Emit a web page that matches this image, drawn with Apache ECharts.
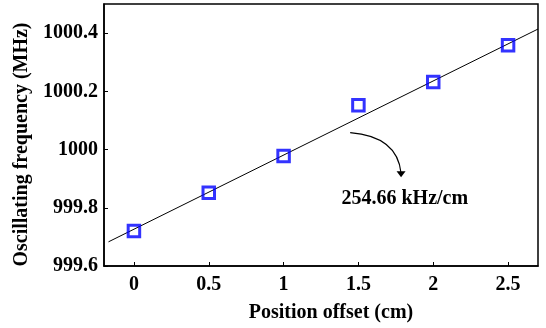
<!DOCTYPE html>
<html><head><meta charset="utf-8">
<script src="https://cdn.jsdelivr.net/npm/echarts@6/dist/echarts.min.js"></script>
<style>html,body{margin:0;padding:0;background:#fff}#c{width:546px;height:328px}</style>
</head><body><div id="c"></div>
<script>
const positions = [0, 0.5, 1, 1.5, 2, 2.5];
const frequencies = [999.72, 999.852, 999.978, 1000.152, 1000.232, 1000.358];
const fitX = [-0.17, 2.7];
const fitY = [999.683, 1000.414];
const xTicks = [0, 0.5, 1, 1.5, 2, 2.5];
const yTicks = [999.6, 999.8, 1000, 1000.2, 1000.4];
const annotationText = '254.66 kHz/cm';
const arrowStart = [1.445, 1000.058];
const arrowCtrl = [1.76, 1000.045];
const arrowEnd = [1.785, 999.905];
const textPos = [1.81, 999.83];

const font = '"Liberation Serif", "Times New Roman", serif';
const chart = echarts.init(document.getElementById('c'), null, {renderer: 'canvas'});
const lbl = {color: '#000', fontFamily: font, fontWeight: 'bold', fontSize: 20};
const fmt = v => String(Math.round(v * 1000) / 1000);
chart.setOption({
  animation: false,
  backgroundColor: '#fff',
  grid: {left: 104, top: 4, right: 8, bottom: 59, show: true, borderColor: '#000', borderWidth: 1.5, backgroundColor: 'transparent'},
  xAxis: {
    type: 'value', min: -0.2, max: 2.7,
    name: 'Position offset (cm)', nameLocation: 'middle', nameGap: 37,
    nameTextStyle: Object.assign({}, lbl, {fontSize: 20, padding: [0, 0, 0, 20]}),
    axisLine: {show: true, onZero: false, lineStyle: {color: '#000', width: 1.5}},
    axisTick: {show: true, inside: true, length: 4, lineStyle: {color: '#000'}, customValues: xTicks},
    axisLabel: Object.assign({margin: 9, customValues: xTicks, formatter: fmt}, lbl),
    splitLine: {show: false}
  },
  yAxis: {
    type: 'value', min: 999.6, max: 1000.5,
    name: 'Oscillating frequency (MHz)', nameLocation: 'middle', nameGap: 67, nameRotate: 90,
    nameTextStyle: Object.assign({}, lbl, {fontSize: 20, padding: [0, 19, 0, 0]}),
    axisLine: {show: true, onZero: false, lineStyle: {color: '#000', width: 1.5}},
    axisTick: {show: true, inside: true, length: 4, lineStyle: {color: '#000'}, customValues: yTicks},
    axisLabel: Object.assign({margin: 6, customValues: yTicks, formatter: fmt}, lbl),
    splitLine: {show: false}
  },
  series: [
    {type: 'line', data: fitX.map((x, i) => [x, fitY[i]]), symbol: 'none', lineStyle: {color: '#000', width: 1}, z: 2},
    {type: 'scatter', data: positions.map((x, i) => [x, frequencies[i]]), symbol: 'rect', symbolSize: 11.5,
     itemStyle: {color: 'rgba(255,255,255,0)', borderColor: '#0000ff', borderWidth: 3}, z: 3}
  ]
});
const p = v => chart.convertToPixel({gridIndex: 0}, v);
const s = p(arrowStart), c = p(arrowCtrl), e = p(arrowEnd), t = p(textPos);
chart.setOption({
  graphic: [
    {type: 'bezierCurve', shape: {x1: s[0], y1: s[1], x2: e[0], y2: e[1] - 4, cpx1: c[0], cpy1: c[1]},
     style: {stroke: '#000', lineWidth: 1.2, fill: null}},
    {type: 'polygon', shape: {points: [[e[0] - 4.5, e[1] - 6], [e[0] + 4.5, e[1] - 6], [e[0], e[1]]]}, style: {fill: '#000'}},
    {type: 'text', x: t[0], y: t[1], style: {text: annotationText, fontFamily: font, fontWeight: 'bold', fontSize: 20, fill: '#000', align: 'center', verticalAlign: 'middle'}}
  ]
});
</script></body></html>
